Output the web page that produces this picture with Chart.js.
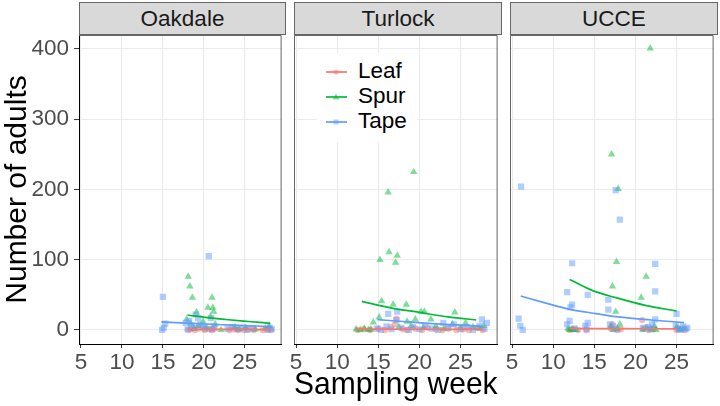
<!DOCTYPE html>
<html><head><meta charset="utf-8">
<script src="https://cdn.jsdelivr.net/npm/chart.js@4.4.0/dist/chart.umd.min.js"></script>
<style>
html,body{margin:0;padding:0;background:#fff;}
body{width:720px;height:406px;overflow:hidden;position:relative;font-family:"Liberation Sans",Arial,sans-serif;}
canvas{position:absolute;}
.strip{position:absolute;top:2px;height:33px;background:#d9d9d9;border:1px solid #666;box-sizing:border-box;display:flex;align-items:center;justify-content:center;font-size:22.5px;color:#1a1a1a;}
#legend{position:absolute;left:317px;top:53px;width:100px;height:89px;background:#fff;}
.lrow{position:absolute;left:0;width:100px;height:24px;}
.lrow svg{position:absolute;left:9px;top:2px;}
.lrow span{position:absolute;left:41px;top:-2px;font-size:22.5px;line-height:26px;color:#000;}
</style></head>
<body>
<div class="strip" style="left:79px;width:207px;">Oakdale</div>
<div class="strip" style="left:294px;width:208px;">Turlock</div>
<div class="strip" style="left:510px;width:208px;">UCCE</div>
<canvas id="c1" width="286" height="391" style="left:0;top:15px;"></canvas>
<canvas id="c2" width="218" height="391" style="left:284px;top:15px;"></canvas>
<canvas id="c3" width="218" height="391" style="left:500px;top:15px;"></canvas>
<div id="legend"></div>
<script>
// ---- data ----
const sites = ['Oakdale','Turlock','UCCE'];
const trapTypes = ['Leaf','Spur','Tape'];
const weekTicks = [5,10,15,20,25];
const countTicks = [0,100,200,300,400];

const oakdaleLeaf = [[18.1,0],[18.4,1],[18.9,0],[19.4,2],[20.1,0],[20.7,1],[21.0,0],[21.3,2],[23.1,0],[23.6,1],[24.2,0],[24.9,0],[25.4,1],[26.1,0],[27.2,0],[27.8,1],[28.2,0]];
const oakdaleSpur = [[18.1,76],[18.3,62],[18.6,46],[21.0,46],[20.5,32],[21.1,32],[19.1,25],[17.9,15],[18.4,9],[19.3,6],[20.8,19],[21.2,26],[20.3,4],[18.8,2],[19.9,12],[21.4,8],[23.8,4],[24.3,1],[25.1,3],[26.3,1],[27.5,2],[28.0,6],[22.1,0]];
const oakdaleTape = [[15.0,47],[20.6,105],[15.1,3],[14.9,0],[15.3,9],[17.8,10],[18.2,13],[18.5,6],[19.0,22],[19.3,17],[19.6,8],[18.8,3],[20.2,2],[20.9,17],[21.2,5],[21.0,1],[22.9,2],[23.5,4],[24.1,1],[24.8,3],[25.3,0],[26.0,2],[27.8,0],[28.1,3],[28.3,1],[18.0,1],[19.9,4]];

const turlockLeaf = [[12.5,0],[13.2,1],[14.0,0],[15.0,2],[15.8,0],[16.5,4],[17.2,16],[17.0,8],[18.0,1],[18.5,0],[19.5,2],[20.3,0],[21.0,3],[22.0,1],[22.8,0],[23.5,2],[24.5,0],[25.3,1],[26.0,0],[27.0,3],[27.7,0]];
const turlockSpur = [[19.3,225],[16.2,196],[16.3,111],[15.2,100],[17.3,106],[17.1,96],[15.4,41],[16.8,36],[18.4,36],[20.2,26],[20.6,26],[24.3,25],[15.1,18],[14.4,11],[19.5,15],[21.4,15],[25.6,10],[18.5,12],[12.3,1],[12.8,0],[13.3,2],[13.8,0],[14.1,1],[17.5,4],[19.0,6],[20.5,3],[22.0,5],[23.0,2],[24.0,8],[25.0,3],[26.5,4],[27.3,2],[27.8,6]];
const turlockTape = [[16.2,23],[17.3,26],[17.2,14],[27.6,15],[22.9,10],[14.8,2],[15.3,0],[16.0,5],[16.6,1],[17.8,3],[18.7,0],[19.2,4],[20.0,1],[20.7,6],[21.5,2],[22.3,0],[23.5,3],[24.2,8],[25.0,1],[25.8,4],[26.5,0],[27.3,6],[27.9,2],[28.2,10]];

const ucceLeaf = [[12.0,0],[12.4,1],[13.0,0],[14.0,0],[17.2,8],[17.0,2],[17.8,0],[18.2,1],[20.8,14],[21.0,2],[21.6,0],[22.2,1],[25.0,0],[25.3,2],[26.0,0]];
const ucceSpur = [[21.8,401],[17.1,250],[17.9,201],[17.7,97],[21.3,76],[17.2,62],[20.7,46],[17.6,26],[12.0,0],[12.3,1],[12.5,0],[11.8,2],[12.8,0],[17.0,5],[17.3,0],[17.8,2],[18.1,8],[20.9,0],[21.4,3],[21.9,1],[22.3,6],[22.5,0],[25.0,4],[25.4,0],[25.8,2]];
const ucceTape = [[6.1,204],[17.6,199],[18.1,157],[12.3,95],[22.4,94],[11.7,54],[22.4,55],[14.2,50],[16.7,43],[12.3,36],[12.1,32],[16.7,29],[25.0,23],[5.8,16],[6.0,6],[6.3,0],[12.0,13],[11.7,8],[14.2,10],[13.9,6],[14.1,1],[22.4,15],[22.0,8],[21.5,4],[17.3,5],[17.6,1],[16.9,8],[25.2,2],[25.5,0],[25.8,5],[26.1,1],[26.3,3],[24.9,6],[12.6,2],[20.9,3],[21.8,1]];

// fitted trend lines, read at several weeks
const oakdaleLeafFit = [[18,1],[23,0.8],[28.2,0.6]];
const oakdaleSpurFit = [[18,21.3],[20.5,17.5],[23,14.5],[25.5,12],[28.1,9.5]];
const oakdaleTapeFit = [[14.8,11.4],[18,9.6],[21.5,7.8],[25,6.2],[28.2,4.8]];
const turlockLeafFit = [[12.3,1.2],[20,1],[27.7,0.8]];
const turlockSpurFit = [[13,40.8],[16.5,31.5],[20,25],[23.5,18.5],[26.9,14.2]];
const turlockTapeFit = [[14.9,14.7],[18,12],[21,9.5],[24.5,7.2],[27.6,5.3]];
const ucceLeafFit = [[12,2],[18.5,1.8],[25,1.6]];
const ucceSpurFit = [[12,72],[14.8,56],[17.6,46],[21.2,35],[25,27]];
const ucceTapeFit = [[6.05,48.3],[8.9,39],[12.06,29.4],[15.2,23.3],[17.6,19],[21.9,14.2],[25.9,10.5]];

// ---- styling ----
const LINE_COLORS = {Leaf:'#F8766D', Spur:'#00BA38', Tape:'#619CFF'};
const POINT_COLORS = {Leaf:'rgba(248,118,109,0.5)', Spur:'rgba(0,186,56,0.5)', Tape:'rgba(97,156,255,0.5)'};
const SHAPES = {Leaf:'circle', Spur:'triangle', Tape:'rect'};
const RADII = {Leaf:3.2, Spur:4.3, Tape:4.4};
const FONT = 'Liberation Sans';

const pointSets = {
  Oakdale:{Leaf:oakdaleLeaf, Spur:oakdaleSpur, Tape:oakdaleTape},
  Turlock:{Leaf:turlockLeaf, Spur:turlockSpur, Tape:turlockTape},
  UCCE:{Leaf:ucceLeaf, Spur:ucceSpur, Tape:ucceTape}
};
const fitSets = {
  Oakdale:{Leaf:oakdaleLeafFit, Spur:oakdaleSpurFit, Tape:oakdaleTapeFit},
  Turlock:{Leaf:turlockLeafFit, Spur:turlockSpurFit, Tape:turlockTapeFit},
  UCCE:{Leaf:ucceLeafFit, Spur:ucceSpurFit, Tape:ucceTapeFit}
};
const toXY = a => a.map(([x,y]) => ({x, y}));

const panelFrame = {
  id:'panelFrame',
  afterDatasetsDraw(chart){
    const {ctx, chartArea:{left,top,right,bottom}} = chart;
    ctx.save();
    ctx.strokeStyle = '#666'; ctx.lineWidth = 1;
    ctx.beginPath();
    ctx.moveTo(left, top+0.5); ctx.lineTo(right-0.5, top+0.5); ctx.lineTo(right-0.5, bottom);
    ctx.stroke();
    ctx.restore();
  }
};

function makeChart(id, site, idx){
  const first = idx === 0, middle = idx === 1;
  const datasets = [];
  trapTypes.forEach(t => datasets.push({
    type:'line', label:t+' trend', data:toXY(fitSets[site][t]), borderColor:LINE_COLORS[t],
    backgroundColor:LINE_COLORS[t], borderWidth:1.7, pointRadius:0, showLine:true,
    cubicInterpolationMode:'monotone', fill:false, order:0
  }));
  ['Tape','Spur','Leaf'].forEach(t => datasets.push({
    label:t, data:toXY(pointSets[site][t]), backgroundColor:POINT_COLORS[t],
    borderWidth:0, borderColor:'rgba(0,0,0,0)', pointStyle:SHAPES[t], pointRadius:RADII[t], order:1
  }));
  return new Chart(document.getElementById(id), {
    type:'scatter',
    data:{datasets},
    plugins:[panelFrame],
    options:{
      responsive:false, animation:false, devicePixelRatio:1,
      layout:{padding:{top:20, left:first?0:10, right:0, bottom:0}},
      plugins:{legend:{display:false}, tooltip:{enabled:false}, title:{display:false}},
      scales:{
        x:{
          type:'linear', min:4.75, max:29.5,
          afterBuildTicks:s => { s.ticks = weekTicks.map(v => ({value:v})); },
          afterFit:s => { s.height = 62; },
          grid:{color:'#ebebeb', lineWidth:1.1, drawTicks:true, tickLength:4, tickColor:'#333', tickWidth:1},
          border:{display:true, color:'#000', width:1},
          ticks:{font:{family:FONT, size:22.5}, color:'#4d4d4d', padding:1, maxRotation:0, autoSkip:false},
          title:{display:middle, text:'Sampling week', color:'#000', font:{family:FONT, size:30.5}, padding:{top:0, bottom:2}}
        },
        y:{
          type:'linear', min:-20, max:420,
          afterBuildTicks:s => { s.ticks = countTicks.map(v => ({value:v})); },
          afterFit:s => { s.width = first ? 79 : 0; },
          grid:{color:'#ebebeb', lineWidth:1.1, drawTicks:first, tickLength:5, tickColor:'#333', tickWidth:1},
          border:{display:true, color:first ? '#000' : '#666', width:1},
          ticks:{display:first, font:{family:FONT, size:22.5}, color:'#4d4d4d', padding:5},
          title:{display:first, text:'Number of adults', color:'#000', font:{family:FONT, size:30}, padding:{top:0, bottom:0}}
        }
      }
    }
  });
}
sites.forEach((s,i) => makeChart('c'+(i+1), s, i));

// legend (HTML, inside the Turlock panel)
const legend = document.getElementById('legend');
const markerSvg = {
  Leaf: c => `<circle cx="10" cy="10" r="2.6" fill="${c}"/>`,
  Spur: c => `<polygon points="10,6.5 13.5,12.5 6.5,12.5" fill="${c}"/>`,
  Tape: c => `<rect x="7.5" y="7.5" width="5" height="5" fill="${c}"/>`
};
const rowTops = [7, 31.5, 56.5];
trapTypes.forEach((t,i) => {
  const row = document.createElement('div');
  row.className = 'lrow';
  row.style.top = rowTops[i] + 'px';
  row.innerHTML = `<svg width="22" height="20"><line x1="0" y1="10" x2="21" y2="10" stroke="${LINE_COLORS[t]}" stroke-width="1.7"/>${markerSvg[t](POINT_COLORS[t])}</svg><span>${t}</span>`;
  legend.appendChild(row);
});
</script>
</body></html>
